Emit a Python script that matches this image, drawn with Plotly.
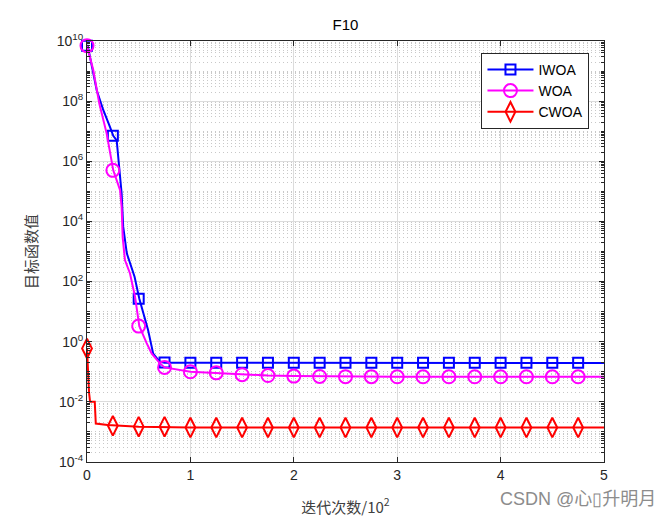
import plotly.graph_objects as go

# iterations are in hundreds (x axis label is 迭代次数/10^2)
marker_x = [0, 0.25, 0.5, 0.75, 1.0, 1.25, 1.5, 1.75, 2.0, 2.25, 2.5, 2.75,
            3.0, 3.25, 3.5, 3.75, 4.0, 4.25, 4.5, 4.75]

iwoa_x = [0, 0.007, 0.094, 0.158, 0.222, 0.254, 0.287, 0.305, 0.335, 0.35,
          0.385, 0.46, 0.506, 0.59, 0.64, 0.70, 0.75, 5.0]
iwoa_y = [7e9, 7e9, 2.3e8, 5e7, 1.4e7, 7e6, 5e6, 1.1e6, 8.5e4, 6.7e3,
          870, 145, 27, 2.5, 0.4, 0.22, 0.2, 0.195]
iwoa_mk = [7e9, 7e6, 27, 0.205, 0.2, 0.2, 0.2, 0.2, 0.2, 0.2, 0.2, 0.2,
           0.2, 0.2, 0.2, 0.2, 0.2, 0.2, 0.2, 0.2]

woa_x = [0, 0.06, 0.12, 0.19, 0.254, 0.32, 0.335, 0.345, 0.367, 0.416,
         0.464, 0.506, 0.577, 0.626, 0.706, 0.75, 1.0, 1.25, 1.5, 1.75,
         2.0, 2.5, 3.0, 5.0]
woa_y = [7e9, 1.1e9, 8e7, 8.5e6, 5e5, 1.1e5, 3e4, 3e3, 520, 186,
         32, 3.3, 0.9, 0.4, 0.19, 0.14, 0.1, 0.092, 0.08, 0.075,
         0.072, 0.07, 0.068, 0.068]
woa_mk = [7e9, 5e5, 3.3, 0.14, 0.1, 0.092, 0.08, 0.075, 0.072, 0.07, 0.069,
          0.069, 0.068, 0.068, 0.068, 0.068, 0.068, 0.068, 0.068, 0.068]

cwoa_x = [0, 0.01, 0.02, 0.03, 0.075, 0.085, 0.2, 0.5, 1.0, 5.0]
cwoa_y = [0.6, 0.05, 0.02, 0.01, 0.01, 0.0019, 0.0017, 0.0015, 0.0014, 0.0014]
cwoa_mk = [0.6, 0.0016, 0.0015, 0.0015, 0.0014, 0.0014, 0.0014, 0.0014, 0.0014,
           0.0014, 0.0014, 0.0014, 0.0014, 0.0014, 0.0014, 0.0014, 0.0014,
           0.0014, 0.0014, 0.0014]

y_ticks = [1e-4, 1e-2, 1, 1e2, 1e4, 1e6, 1e8, 1e10]
y_ticktext = ["10<sup>-4</sup>", "10<sup>-2</sup>", "10<sup>0</sup>", "10<sup>2</sup>",
              "10<sup>4</sup>", "10<sup>6</sup>", "10<sup>8</sup>", "10<sup>10</sup>"]

series = [
    ("IWOA", iwoa_x, iwoa_y, iwoa_mk, "#0000ff", "square-open", 10),
    ("WOA", woa_x, woa_y, woa_mk, "#ff00ff", "circle-open", 13),
    ("CWOA", cwoa_x, cwoa_y, cwoa_mk, "#ff0000", "diamond-tall-open", 14),
]

fig = go.Figure()
for name, x, y, mk, color, sym, size in series:
    fig.add_trace(go.Scatter(x=x, y=y, mode="lines", line=dict(color=color, width=2),
                             showlegend=False, hoverinfo="skip"))
    fig.add_trace(go.Scatter(x=marker_x, y=mk, mode="markers", showlegend=False,
                             cliponaxis=False,
                             marker=dict(symbol=sym, size=size, color=color,
                                         line=dict(color=color, width=2))))
for name, x, y, mk, color, sym, size in series:
    fig.add_trace(go.Scatter(x=[None], y=[None], mode="lines+markers", name=name,
                             line=dict(color=color, width=2),
                             marker=dict(symbol=sym, size=size, color=color,
                                         line=dict(color=color, width=2))))

# minor grid: 2..9 in every decade plus the odd decades
minor_vals = []
for k in range(-4, 10):
    for m in range(1, 10):
        if m == 1 and k % 2 == 0:
            continue
        minor_vals.append(m * 10.0 ** k)

axis_font = dict(family="Liberation Sans, Arial", size=14, color="#262626")
# page body has an 8px margin, so the figure is a bit smaller than the window
fig.update_layout(
    width=660, height=512,
    margin=dict(l=79, r=64, t=33, b=58),
    paper_bgcolor="white", plot_bgcolor="white",
    title=dict(text="F10", x=0.5, xref="paper", y=1, yref="container",
               yanchor="top", pad=dict(t=11),
               font=dict(family="Liberation Sans, Arial", size=15, color="#000000")),
    xaxis=dict(range=[0, 5], dtick=1, ticks="inside", ticklen=5, tickcolor="#262626",
               showline=True, linecolor="#262626", linewidth=1, mirror="ticks",
               showgrid=True, gridcolor="#dcdcdc", gridwidth=1, zeroline=False,
               tickfont=axis_font, automargin=False,
               title=dict(text="迭代次数/10<sup>2</sup>", standoff=20,
                          font=dict(family="Noto Sans CJK SC", size=15, color="#404040"))),
    yaxis=dict(type="log", range=[-4, 10], tickmode="array", tickvals=y_ticks,
               ticktext=y_ticktext, ticks="inside", ticklen=5, tickcolor="#262626",
               showline=True, linecolor="#262626", linewidth=1, mirror="ticks",
               showgrid=True, gridcolor="#dcdcdc", gridwidth=1, zeroline=False,
               tickfont=axis_font, automargin=False,
               minor=dict(tickmode="array", tickvals=minor_vals, ticks="inside",
                          ticklen=3, tickcolor="#262626", showgrid=True,
                          griddash="1px,3px", gridcolor="#c8c8c8", gridwidth=1),
               title=dict(text="目标函数值", standoff=15,
                          font=dict(family="Noto Sans CJK SC", size=15, color="#404040"))),
    legend=dict(x=0.763, y=0.972, xanchor="left", yanchor="top",
                bgcolor="white", bordercolor="#262626", borderwidth=1,
                font=dict(family="Liberation Sans, Arial", size=14, color="#000000"),
                tracegroupgap=0, itemwidth=46),
    annotations=[dict(text="CSDN @心▯升明月", xref="paper", yref="paper",
                      x=1.105, y=-0.088, xanchor="right", yanchor="middle", showarrow=False,
                      font=dict(family="Liberation Sans, Noto Sans CJK SC", size=18,
                                color="#8c8c8c"))],
)

fig.write_html("out.html")
